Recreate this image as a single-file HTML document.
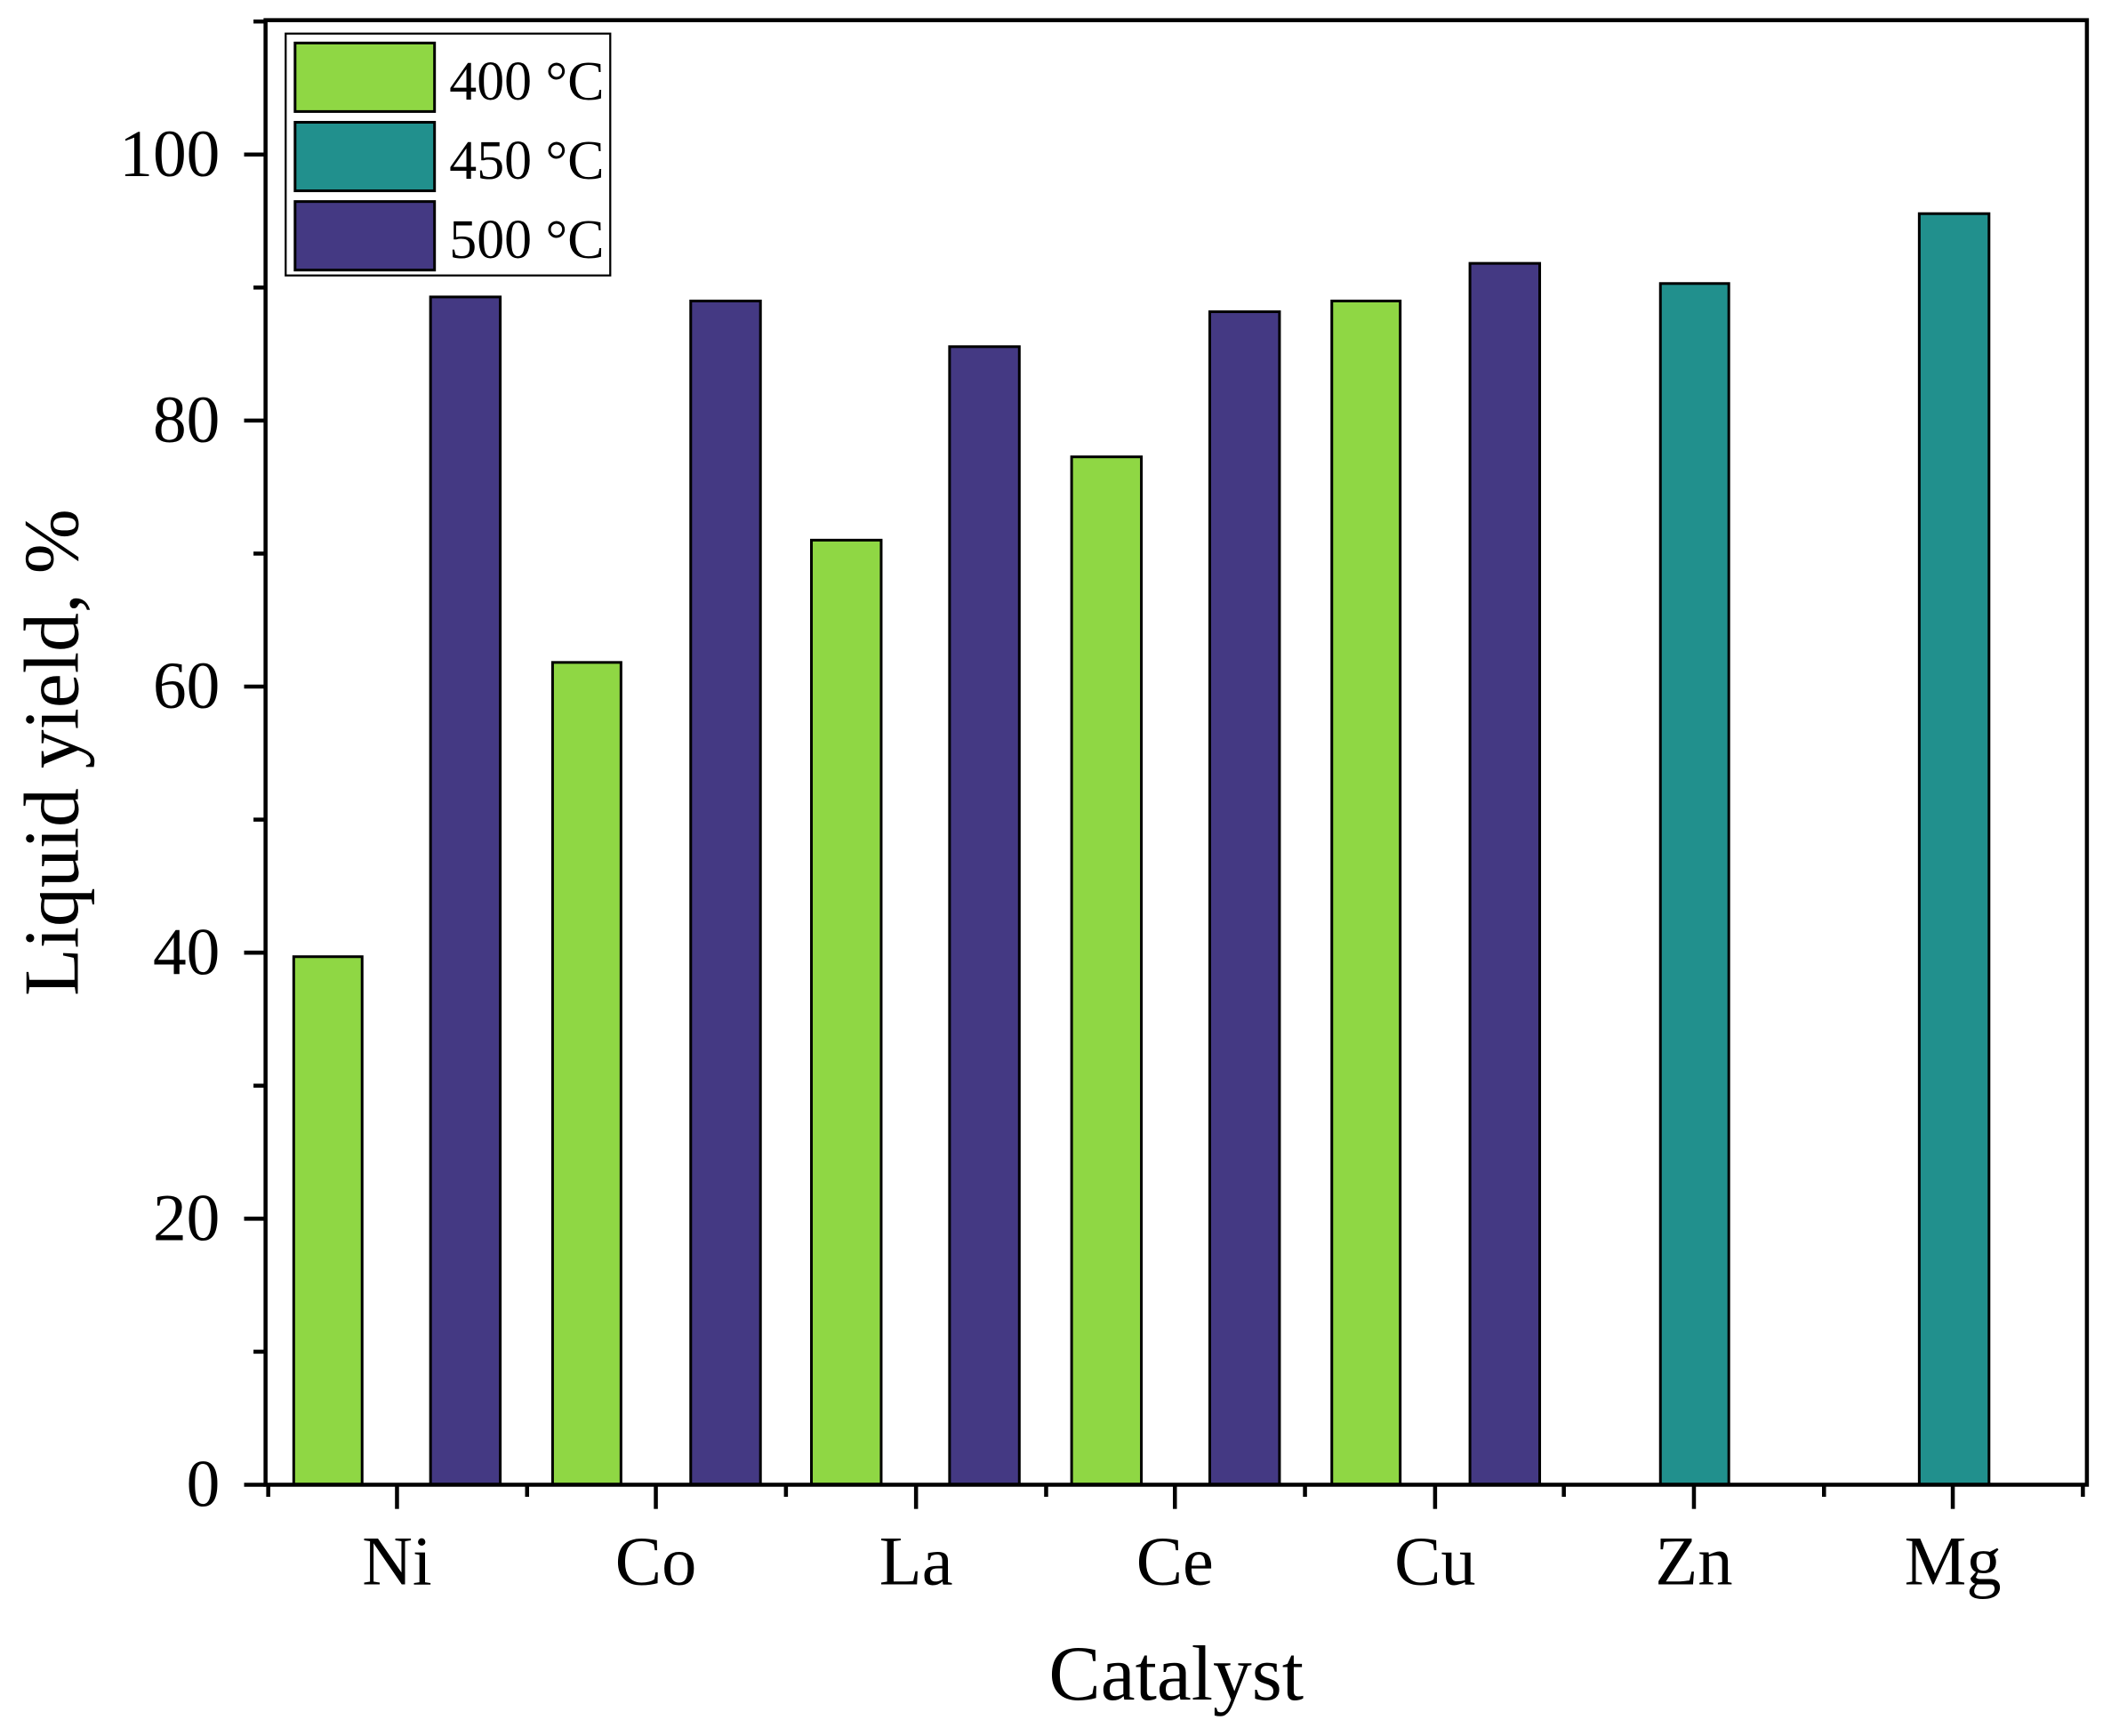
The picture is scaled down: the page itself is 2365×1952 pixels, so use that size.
<!DOCTYPE html>
<html><head><meta charset="utf-8"><style>html,body{margin:0;padding:0;background:#fff}svg{display:block}</style></head>
<body>
<svg width="2365" height="1952" viewBox="0 0 1568 1292" preserveAspectRatio="none" xmlns="http://www.w3.org/2000/svg" font-family="'Liberation Serif', serif">
<rect width="1568" height="1292" fill="#fff"/>
<g stroke="#000" stroke-width="2">
<rect x="219" y="712" width="51" height="393" fill="#8fd744"/>
<rect x="321" y="221" width="52" height="884" fill="#443983"/>
<rect x="412" y="493" width="51" height="612" fill="#8fd744"/>
<rect x="515" y="224" width="52" height="881" fill="#443983"/>
<rect x="605" y="402" width="52" height="703" fill="#8fd744"/>
<rect x="708" y="258" width="52" height="847" fill="#443983"/>
<rect x="799" y="340" width="52" height="765" fill="#8fd744"/>
<rect x="902" y="232" width="52" height="873" fill="#443983"/>
<rect x="993" y="224" width="51" height="881" fill="#8fd744"/>
<rect x="1096" y="196" width="52" height="909" fill="#443983"/>
<rect x="1238" y="211" width="51" height="894" fill="#21908d"/>
<rect x="1431" y="159" width="52" height="946" fill="#21908d"/>
</g>
<rect x="198" y="15" width="1358" height="1090" fill="none" stroke="#000" stroke-width="3"/>
<g stroke="#000" stroke-width="3">
<line x1="182" y1="1105" x2="198" y2="1105"/><line x1="182" y1="907" x2="198" y2="907"/><line x1="182" y1="709" x2="198" y2="709"/><line x1="182" y1="511" x2="198" y2="511"/><line x1="182" y1="313" x2="198" y2="313"/><line x1="182" y1="115" x2="198" y2="115"/>
<line x1="189" y1="1006" x2="198" y2="1006"/><line x1="189" y1="808" x2="198" y2="808"/><line x1="189" y1="610" x2="198" y2="610"/><line x1="189" y1="412" x2="198" y2="412"/><line x1="189" y1="214" x2="198" y2="214"/><line x1="189" y1="16" x2="198" y2="16"/>
<line x1="296" y1="1105" x2="296" y2="1123"/><line x1="489" y1="1105" x2="489" y2="1123"/><line x1="683" y1="1105" x2="683" y2="1123"/><line x1="876" y1="1105" x2="876" y2="1123"/><line x1="1070" y1="1105" x2="1070" y2="1123"/><line x1="1263" y1="1105" x2="1263" y2="1123"/><line x1="1456" y1="1105" x2="1456" y2="1123"/>
<line x1="200" y1="1105" x2="200" y2="1114"/><line x1="393" y1="1105" x2="393" y2="1114"/><line x1="586" y1="1105" x2="586" y2="1114"/><line x1="780" y1="1105" x2="780" y2="1114"/><line x1="973" y1="1105" x2="973" y2="1114"/><line x1="1166" y1="1105" x2="1166" y2="1114"/><line x1="1360" y1="1105" x2="1360" y2="1114"/><line x1="1553" y1="1105" x2="1553" y2="1114"/>
</g>
<g font-size="50" text-anchor="end">
<text x="164" y="1121">0</text><text x="164" y="923">20</text><text x="164" y="725">40</text><text x="164" y="527">60</text><text x="164" y="329">80</text><text x="164" y="131">100</text>
</g>
<g font-size="52" text-anchor="middle">
<text x="296" y="1179">Ni</text><text x="489" y="1179">Co</text><text x="683" y="1179">La</text><text x="876" y="1179">Ce</text><text x="1070" y="1179">Cu</text><text x="1263" y="1179">Zn</text><text x="1456" y="1179">Mg</text>
<text x="877" y="1265" font-size="58">Catalyst</text>
<text transform="translate(58,560) rotate(-90)" font-size="58">Liquid yield, %</text>
</g>
<rect x="213" y="25" width="242" height="180" fill="#fff" stroke="#000" stroke-width="1.5"/>
<g stroke="#000" stroke-width="2">
<rect x="220" y="32" width="104" height="51" fill="#8fd744"/>
<rect x="220" y="91" width="104" height="51" fill="#21908d"/>
<rect x="220" y="150" width="104" height="51" fill="#443983"/>
</g>
<g font-size="41">
<text x="335" y="74">400 °C</text><text x="335" y="133">450 °C</text><text x="335" y="192">500 °C</text>
</g>
</svg>
</body></html>
